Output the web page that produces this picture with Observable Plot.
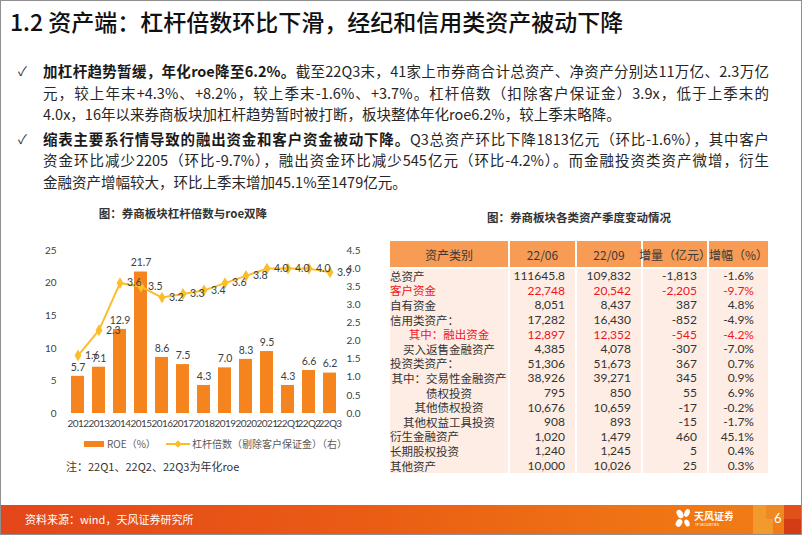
<!DOCTYPE html>
<html><head><meta charset="utf-8">
<script src="https://cdn.jsdelivr.net/npm/d3@7"></script>
<script src="https://cdn.jsdelivr.net/npm/@observablehq/plot@0.6"></script>
<style>
body{margin:0;background:#fff;}
#slide{position:relative;width:802px;height:535px;box-sizing:border-box;border:1px solid #8f8f8f;overflow:hidden;font-family:"Noto Sans CJK SC","Noto Sans",sans-serif;background:#fff;}
.abs{position:absolute;white-space:nowrap;}
#title{left:9px;top:5px;font-size:23px;font-weight:500;color:#111;line-height:30px;}
.bl{position:absolute;left:42px;width:726px;font-size:14.5px;color:#262626;line-height:21px;white-space:nowrap;text-align:justify;text-align-last:justify;}
.bl.last{text-align-last:left;}
.bl b{font-weight:700;color:#1a1a1a;}
.chk{position:absolute;left:17px;font-size:13px;color:#333;line-height:21px;}
#ctitle{left:0;width:364px;text-align:center;top:204px;font-size:11.5px;font-weight:700;color:#333;}
#ttitle{left:389px;width:378px;text-align:center;top:208px;font-size:11.5px;font-weight:700;color:#333;}
.leg{font-size:10px;color:#595959;top:436px;line-height:14px;}
#note{left:65px;top:457px;font-size:11px;color:#333;line-height:16px;}
#tbl{position:absolute;left:389px;top:240px;width:378px;}
.row{position:relative;height:14.6px;}
.hdr{height:26px;margin-bottom:1.5px;}
.cell{position:absolute;top:0;bottom:0;box-sizing:border-box;font-size:11.5px;color:#333;white-space:nowrap;display:flex;align-items:center;}
.hdr .cell{background:#F89B55;justify-content:center;font-size:12px;color:#3a3a3a;}
.body .cell{background:#FDEDE4;}
.num{justify-content:flex-end;padding-right:10px;font-family:Lato,"Noto Sans CJK SC",sans-serif;font-size:12px;}
.red{color:#F0141E !important;}
#footer{position:absolute;left:0;top:504px;width:802px;height:29px;background:linear-gradient(90deg,#E4461A 0%,#EA5C14 45%,#EF7414 80%,#F07E16 100%);}
</style></head>
<body>
<div id="slide">
  <div id="title" class="abs">1.2 资产端：杠杆倍数环比下滑，经纪和信用类资产被动下降</div>

  <div class="chk" style="top:59px">✓</div>
  <div class="bl" style="top:59px"><b>加杠杆趋势暂缓，年化roe降至6.2%。</b>截至22Q3末，41家上市券商合计总资产、净资产分别达11万亿、2.3万亿</div>
  <div class="bl" style="top:80.5px">元，较上年末+4.3%、+8.2%，较上季末-1.6%、+3.7%。杠杆倍数（扣除客户保证金）3.9x，低于上季末的</div>
  <div class="bl last" style="top:102px">4.0x，16年以来券商板块加杠杆趋势暂时被打断，板块整体年化roe6.2%，较上季末略降。</div>

  <div class="chk" style="top:126.5px">✓</div>
  <div class="bl" style="top:126.5px"><b>缩表主要系行情导致的融出资金和客户资金被动下降。</b>Q3总资产环比下降1813亿元（环比-1.6%），其中客户</div>
  <div class="bl" style="top:148px">资金环比减少2205（环比-9.7%），融出资金环比减少545亿元（环比-4.2%）。而金融投资类资产微增，衍生</div>
  <div class="bl last" style="top:170px">金融资产增幅较大，环比上季末增加45.1%至1479亿元。</div>

  <div id="ctitle" class="abs">图：券商板块杠杆倍数与roe双降</div>
  <div id="chart" style="position:absolute;left:30px;top:230px;"></div>
  <div id="legend"></div>
  <div id="note" class="abs">注：22Q1、22Q2、22Q3为年化roe</div>

  <div id="ttitle" class="abs">图：券商板块各类资产季度变动情况</div>
  <div id="tbl"></div>

  <div id="footer">
    <div class="abs" style="left:24px;top:6px;font-size:11px;color:#fff;line-height:16px;">资料来源：wind，天风证券研究所</div>
    <svg style="position:absolute;left:672px;top:3px" width="60" height="22">
      <ellipse cx="7" cy="6" rx="3" ry="4.5" fill="#fff" transform="rotate(-30 7 6)"/>
      <ellipse cx="14" cy="5" rx="2.6" ry="4" fill="#fff" transform="rotate(25 14 5)"/>
      <ellipse cx="6" cy="15" rx="3" ry="4" fill="#fff" transform="rotate(30 6 15)"/>
      <ellipse cx="14" cy="15" rx="2.5" ry="3.6" fill="#fff" transform="rotate(-20 14 15)"/>
      <text x="21" y="12" fill="#fff" font-size="10" font-weight="700" font-family="Noto Sans CJK SC">天风证券</text>
      <text x="22" y="18" fill="#fff" font-size="3.5" font-family="Lato">TF SECURITIES</text>
    </svg>
    <div style="position:absolute;left:752px;top:0;width:20px;height:29px;background:#F39A2E;"></div>
    <div style="position:absolute;left:765px;top:0;width:18px;height:14px;background:#EE8A24;"></div>
    <div style="position:absolute;left:783px;top:0;width:19px;height:14px;background:#E2501A;"></div>
    <div style="position:absolute;left:783px;top:14px;width:19px;height:15px;background:#D43C16;"></div>
    <div class="abs" style="left:773px;top:5px;font-size:13px;color:#fff;font-family:Lato;">6</div>
  </div>
</div>
<script>
// ---- chart data ----
const periods = ["2012","2013","2014","2015","2016","2017","2018","2019","2020","2021","22Q1","22Q2","22Q3"];
const roe = [5.7, 7.1, 12.9, 21.7, 8.6, 7.5, 4.3, 7.0, 8.3, 9.5, 4.3, 6.6, 6.2];
const leverage = [1.6, 2.3, 3.6, 3.5, 3.2, 3.3, 3.4, 3.6, 3.8, 4.0, 4.0, 4.0, 3.9];
const leftTicks = [0, 5, 10, 15, 20, 25];
const rightTicks = [0, 0.5, 1.0, 1.5, 2.0, 2.5, 3.0, 3.5, 4.0, 4.5];
const seriesNames = ["ROE（%）", "杠杆倍数（剔除客户保证金）（右）"];

// ---- table data ----
const tableHeader = ["资产类别", "22/06", "22/09", "增量（亿元）", "增幅（%）"];
const assetCategories = ["总资产","客户资金","自有资金","信用类资产：","其中：融出资金","买入返售金融资产","投资类资产：","其中：交易性金融资产","债权投资","其他债权投资","其他权益工具投资","衍生金融资产","长期股权投资","其他资产"];
const value2206 = ["111645.8","22,748","8,051","17,282","12,897","4,385","51,306","38,926","795","10,676","908","1,020","1,240","10,000"];
const value2209 = ["109,832","20,542","8,437","16,430","12,352","4,078","51,673","39,271","850","10,659","893","1,479","1,245","10,026"];
const changeAmt = ["-1,813","-2,205","387","-852","-545","-307","367","345","55","-17","-15","460","5","25"];
const changePct = ["-1.6%","-9.7%","4.8%","-4.9%","-4.2%","-7.0%","0.7%","0.9%","6.9%","-0.2%","-1.7%","45.1%","0.4%","0.3%"];
const highlightedRows = [1, 4];
const subItemRows = [4, 5, 7, 8, 9, 10];

// ---- styles ----
const barColor = "#F5841F";
const lineColor = "#FBBD2C";
const k = 25 / 4.5;

const data = periods.map((p, i) => ({period: p, roe: roe[i], lev: leverage[i], levS: leverage[i] * k}));

const chart = Plot.plot({
  width: 340, height: 200,
  marginLeft: 36, marginRight: 31, marginTop: 19, marginBottom: 18,
  style: {fontFamily: "Lato, 'Noto Sans CJK SC', sans-serif", fontSize: "10px", color: "#595959", background: "transparent", overflow: "visible"},
  x: {domain: periods, paddingInner: 0.38, paddingOuter: 0.19, label: null},
  y: {domain: [0, 25], label: null},
  marks: [
    Plot.barY(data, {x: "period", y: "roe", fill: barColor}),
    Plot.text(data, {x: "period", y: "roe", text: d => d.roe.toFixed(1), dy: -9, fill: "#404040", fontSize: 10.5}),
    Plot.line(data, {x: "period", y: "levS", stroke: lineColor, strokeWidth: 2}),
    Plot.dot(data, {x: "period", y: "levS", symbol: "diamond", fill: lineColor, r: 3.6}),
    Plot.text(data, {x: "period", y: "levS", text: d => d.lev.toFixed(1), dx: 7, textAnchor: "start", fill: "#404040", fontSize: 10.5}),
    Plot.axisX({tickSize: 0, tickPadding: 6, label: null, fontSize: 10, fill: "#404040", ariaLabel: "x-axis"}),
    Plot.axisY(leftTicks, {tickSize: 0, tickPadding: 11, label: null, fill: "#404040"}),
    Plot.axisY(rightTicks.map(v => v * k), {anchor: "right", tickSize: 0, tickPadding: 6, tickFormat: d => (d / k).toFixed(1), label: null, fill: "#404040"})
  ]
});
// tighten the crowded category labels a little, as in the original
d3.select(chart).selectAll('g[aria-label="x-axis"] text, g[aria-label="x-axis tick label"] text').attr("letter-spacing", "-0.55px");
document.getElementById("chart").appendChild(chart);

// legend
const leg = document.getElementById("legend");
leg.innerHTML =
  `<div style="position:absolute;left:83px;top:440px;width:20px;height:6px;background:${barColor}"></div>` +
  `<div class="abs leg" style="left:106px">${seriesNames[0]}</div>` +
  `<svg style="position:absolute;left:164px;top:437px" width="26" height="12"><line x1="1" x2="25" y1="6" y2="6" stroke="${lineColor}" stroke-width="2"/><path d="M13 2.2 L16.8 6 L13 9.8 L9.2 6 Z" fill="${lineColor}"/></svg>` +
  `<div class="abs leg" style="left:191px">${seriesNames[1]}</div>`;

// table
const colW = [120, 67, 66, 66, 59];
const colX = colW.map((w, i) => colW.slice(0, i).reduce((a, b) => a + b, 0));
const tbl = document.getElementById("tbl");
let html = `<div class="row hdr">` + tableHeader.map((h, i) =>
  `<div class="cell" style="left:${colX[i]}px;width:${colW[i] - (i < 4 ? 2 : 0)}px">${h}</div>`).join("") + `</div><div class="body">`;
assetCategories.forEach((c, r) => {
  const red = highlightedRows.includes(r) ? " red" : "";
  const sub = subItemRows.includes(r);
  const vals = [value2206[r], value2209[r], changeAmt[r], changePct[r]];
  html += `<div class="row">` +
    `<div class="cell${red}" style="left:0;width:${colW[0] - 2}px;${sub ? "justify-content:center;" : "padding-left:0;"}">${c}</div>` +
    vals.map((v, j) => `<div class="cell num${red}" style="left:${colX[j + 1]}px;width:${colW[j + 1] - (j < 3 ? 2 : 0)}px;${j === 3 ? "padding-right:14px;" : ""}">${v}</div>`).join("") +
    `</div>`;
});
html += `</div>`;
tbl.innerHTML = html;
</script>
</body></html>
